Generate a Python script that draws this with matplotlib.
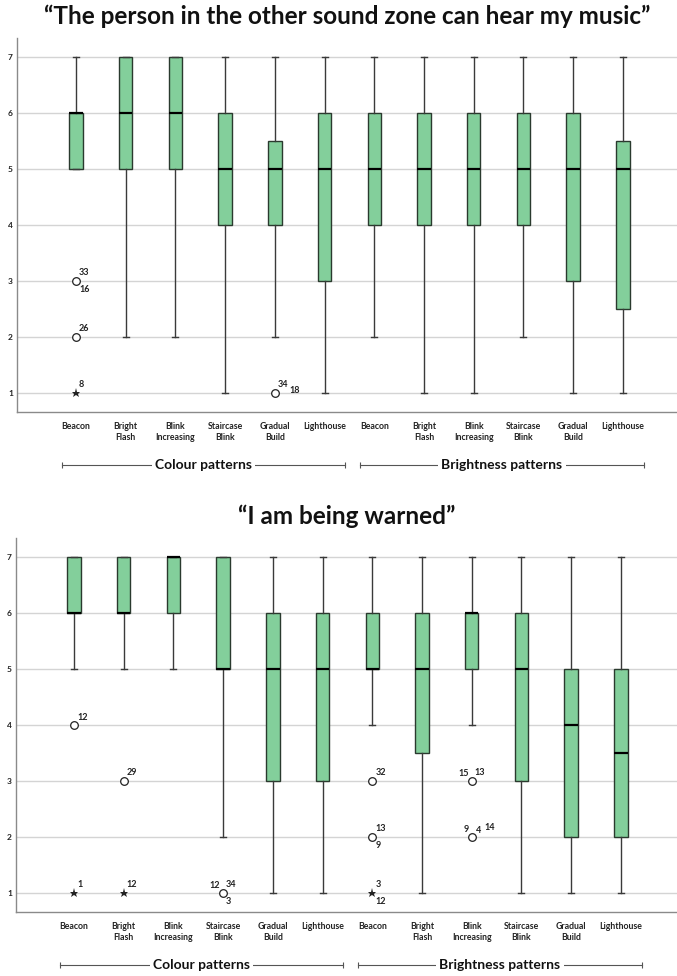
import matplotlib
matplotlib.use("Agg")
import matplotlib.pyplot as plt
import matplotlib.transforms as mtrans
import numpy as np

plt.rcParams['font.family'] = ['Lato', 'DejaVu Sans']

categories = ["Beacon", "Bright\nFlash", "Blink\nIncreasing", "Staircase\nBlink", "Gradual\nBuild", "Lighthouse",
              "Beacon", "Bright\nFlash", "Blink\nIncreasing", "Staircase\nBlink", "Gradual\nBuild", "Lighthouse"]
groups = ["Colour patterns", "Brightness patterns"]

# chart 1: "The person in the other sound zone can hear my music"
hear_q1 = [5, 5, 5, 4, 4, 3, 4, 4, 4, 4, 3, 2.5]
hear_med = [6, 6, 6, 5, 5, 5, 5, 5, 5, 5, 5, 5]
hear_q3 = [6, 7, 7, 6, 5.5, 6, 6, 6, 6, 6, 6, 5.5]
hear_lo = [5, 2, 2, 1, 2, 1, 2, 1, 1, 2, 1, 1]
hear_hi = [7, 7, 7, 7, 7, 7, 7, 7, 7, 7, 7, 7]
hear_out_pos = [1, 1, 1, 5]
hear_out_val = [3, 2, 1, 1]
hear_out_kind = ["o", "o", "*", "o"]
hear_out_ids = [["33", "16"], ["26"], ["8"], ["34", "18"]]

# chart 2: "I am being warned"
warn_q1 = [6, 6, 6, 5, 3, 3, 5, 3.5, 5, 3, 2, 2]
warn_med = [6, 6, 7, 5, 5, 5, 5, 5, 6, 5, 4, 3.5]
warn_q3 = [7, 7, 7, 7, 6, 6, 6, 6, 6, 6, 5, 5]
warn_lo = [5, 5, 5, 2, 1, 1, 4, 1, 4, 1, 1, 1]
warn_hi = [7, 7, 7, 7, 7, 7, 7, 7, 7, 7, 7, 7]
warn_out_pos = [1, 1, 2, 2, 4, 7, 7, 7, 9, 9]
warn_out_val = [4, 1, 3, 1, 1, 3, 2, 1, 3, 2]
warn_out_kind = ["o", "*", "o", "*", "o", "o", "o", "*", "o", "o"]
warn_out_ids = [["12"], ["1"], ["29"], ["12"], ["12", "34", "3"], ["32"], ["13", "9"], ["3", "12"],
                ["15", "13"], ["9", "4", "14"]]

# label placement (pixels) around an outlier marker
slots = {"ur": (3, 8, "left"), "lr": (3, -9, "left"), "ul": (-3, 7, "right"),
         "r2": (15, 2, "left"), "r3": (13, 9, "left"), "u4": (4, 6, "left")}
hear_slots = [["ur", "lr"], ["ur"], ["ur"], ["ur", "r2"]]
warn_slots = [["ur"], ["ur"], ["ur"], ["ur"], ["ul", "ur", "lr"], ["ur"], ["ur", "lr"], ["ur", "lr"],
              ["ul", "ur"], ["ul", "u4", "r3"]]

fill = "#83cf9b"
px = 72.0 / 100.0


def draw(ax, title, q1, med, q3, lo, hi, opos, oval, okind, oids, oslots, x0, x1):
    pos = np.arange(1, 13)
    stats = []
    for i in range(12):
        stats.append({"q1": q1[i], "med": med[i], "q3": q3[i], "whislo": lo[i], "whishi": hi[i], "fliers": []})
    ax.yaxis.grid(True, color="#d4d4d4", lw=1.0, zorder=0)
    ax.set_axisbelow(True)
    ax.bxp(stats, positions=pos, widths=0.27, capwidths=0.12, patch_artist=True, showfliers=False,
           boxprops=dict(facecolor=fill, edgecolor="#2a3a2e", lw=1.0),
           medianprops=dict(color="black", lw=1.6),
           whiskerprops=dict(color="#3a3a3a", lw=1.0),
           capprops=dict(color="#3a3a3a", lw=1.0))
    for k in range(len(opos)):
        if okind[k] == "o":
            ax.plot(opos[k], oval[k], "o", ms=5.5, mfc="white", mec="#222222", mew=0.9, zorder=5, clip_on=False)
        else:
            ax.plot(opos[k], oval[k], "*", ms=6.5, color="#222222", mew=0, zorder=5, clip_on=False)
        for lab, sl in zip(oids[k], oslots[k]):
            dx, dy, ha = slots[sl]
            ax.annotate(lab, (opos[k], oval[k]), xytext=(dx * px, dy * px), textcoords="offset points",
                        ha=ha, va="center", fontsize=6.5, fontweight="bold", color="#222222")
    ax.set_xlim(x0, x1)
    ax.set_ylim(0.66, 7.34)
    ax.set_yticks([1, 2, 3, 4, 5, 6, 7])
    ax.set_yticklabels(["1", "2", "3", "4", "5", "6", "7"], fontsize=6, fontweight="bold")
    ax.set_xticks(pos)
    ax.set_xticklabels(categories, fontsize=6.3, fontweight="bold", linespacing=1.3)
    ax.tick_params(axis="both", length=0, colors="#222222")
    ax.tick_params(axis="x", pad=7)
    ax.tick_params(axis="y", pad=3)
    for s in ["top", "right"]:
        ax.spines[s].set_visible(False)
    for s in ["left", "bottom"]:
        ax.spines[s].set_color("#8a8a8a")
        ax.spines[s].set_linewidth(1.0)
    ax.set_title(title, fontsize=17.5, fontweight="bold", pad=10, color="#111111")

    tr = mtrans.blended_transform_factory(ax.transData, ax.transAxes)
    spans = [(0.72, 6.41), (6.71, 12.43)]
    for (a, b), g in zip(spans, groups):
        ax.plot([a, b], [-0.142, -0.142], color="#555555", lw=0.8, transform=tr, clip_on=False)
        ax.plot([a, b], [-0.142, -0.142], "|", color="#555555", ms=4, mew=0.8, transform=tr, clip_on=False)
        ax.text((a + b) / 2, -0.142, g, transform=tr, ha="center", va="center", fontsize=10,
                fontweight="bold", color="#111111",
                bbox=dict(facecolor="white", edgecolor="none", pad=2.5))


fig = plt.figure(figsize=(6.77, 9.76), dpi=100)
ax1 = fig.add_axes([17 / 677, 1 - 412 / 976, 660 / 677, 374 / 976])
ax2 = fig.add_axes([16 / 677, 1 - 912 / 976, 661 / 677, 374 / 976])

draw(ax1, "\u201cThe person in the other sound zone can hear my music\u201d",
     hear_q1, hear_med, hear_q3, hear_lo, hear_hi,
     hear_out_pos, hear_out_val, hear_out_kind, hear_out_ids, hear_slots, -0.187, 13.09)
draw(ax2, "\u201cI am being warned\u201d",
     warn_q1, warn_med, warn_q3, warn_lo, warn_hi,
     warn_out_pos, warn_out_val, warn_out_kind, warn_out_ids, warn_slots, -0.167, 13.13)

fig.savefig("out.png", dpi=100)
